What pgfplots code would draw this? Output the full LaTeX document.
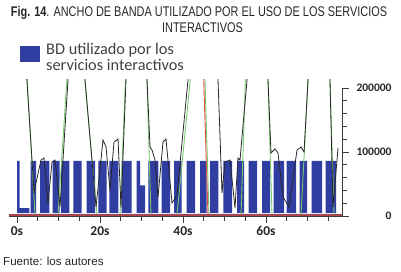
\documentclass[border=0pt]{standalone}
\usepackage{fontspec}
\setmainfont{Liberation Sans}
\newfontfamily\calib{Carlito}
\usepackage{graphicx}
\usepackage{pgfplots}
\pgfplotsset{compat=1.18}
\definecolor{bdblue}{RGB}{47,62,160}
\definecolor{lineblack}{RGB}{40,40,40}
\definecolor{linegreen}{RGB}{120,200,110}
\definecolor{linered}{RGB}{220,80,70}
\definecolor{basered}{RGB}{170,70,80}
\definecolor{axisgray}{RGB}{60,60,60}
\definecolor{legendgray}{RGB}{64,64,64}
\begin{document}
\begin{tikzpicture}[x=1pt,y=1pt]
\path[use as bounding box] (0,0) rectangle (401,271);
\node[anchor=base, inner sep=0pt, text=black!85] at (199,254.3) {\scalebox{0.78}[1]{\fontsize{14}{16}\selectfont\textbf{Fig. 14}. ANCHO DE BANDA UTILIZADO POR EL USO DE LOS SERVICIOS}};
\node[anchor=base, inner sep=0pt, text=black!85] at (202.5,238.5) {\scalebox{0.78}[1]{\fontsize{14}{16}\selectfont INTERACTIVOS}};
\node[anchor=base west, inner sep=0pt, text=black!85] at (3,6) {\fontsize{11.6}{13}\selectfont Fuente: los autores};
\begin{axis}[
  at={(9pt,55pt)}, anchor=south west, scale only axis,
  width=333pt, height=136pt,
  xmin=-1.93, xmax=78.31, ymin=0, ymax=212500,
  axis x line*=bottom, axis y line*=right,
  x axis line style={draw=axisgray, line width=0.8pt, -},
  y axis line style={draw=none, -},
  scaled y ticks=false,
  xtick={0,20,40,60}, xticklabels={0s,20s,40s,60s},
  minor xtick={5,10,15,25,30,35,45,50,55,65,70,75},
  ytick={0,100000,200000}, yticklabels={0,100000,200000},
  minor ytick={20000,40000,60000,80000,120000,140000,160000,180000},
  tick align=outside, major tick length=7pt, minor tick length=4.5pt,
  every tick/.style={draw=axisgray, line width=0.8pt},
  xticklabel style={font=\calib\bfseries\fontsize{13.5}{14}\selectfont, text=black!85},
  yticklabel style={font=\calib\bfseries\fontsize{11.5}{12}\selectfont, text=black!85, text width=38pt, align=right, xshift=1pt},
  legend style={at={(axis description cs:0.024,1.30)}, anchor=north west,
    draw=none, fill=none, font=\calib\fontsize{16.3}{15.5}\selectfont,
    text=legendgray, legend cell align=left},
]
\addplot[const plot, fill=bdblue, draw=none,
  legend image code/.code={\fill[bdblue] (0pt,-8pt) rectangle (20pt,8pt); \path (24pt,0pt);}]
coordinates {
(0,4500) (0,86000) (0.60,12500) (2.96,4500) (3.30,86000) (4.58,4500)
(5.54,86000) (7.78,4500) (8.60,86000) (10.24,4500) (10.60,86000) (12.60,4500)
(13.57,86000) (15.59,4500) (16.80,86000) (18.80,4500) (19.59,86000) (21.61,4500)
(22.24,86000) (24.41,4500) (25.23,86000) (27.64,4500) (28.84,86000) (29.64,48000)
(30.84,4500) (31.64,86000) (34.05,4500) (34.87,86000) (36.87,4500) (37.83,86000)
(39.69,4500) (40.89,86000) (42.89,4500) (44.10,86000) (45.71,4500) (46.51,86000)
(48.51,4500) (49.71,86000) (51.81,4500) (53.01,86000) (54.70,4500) (55.78,86000)
(57.83,4500) (59.04,86000) (60.96,4500) (61.81,86000) (64.34,4500) (64.99,86000)
(67.23,4500) (68.07,86000) (69.88,4500) (71.01,86000) (73.49,4500) (74.34,86000)
(76.87,4500)
};
\addlegendentry{\begin{tabular}{@{}l@{}}BD utilizado por los\\servicios interactivos\end{tabular}}
\addplot[linegreen, line width=0.9pt, forget plot] coordinates {
(0.48,431250) (4.34,1500) (9.88,1500) (13.83,391700) (19.28,1500) (24.82,1500)
(29.08,685900) (32.29,1500) (38.55,1500) (44.46,393100) (46.27,1500) (53.98,1500)
(57.83,779700) (61.45,1500) (68.43,1500) (73.49,625000) (76.39,1500) (77.83,1500)
};
\addplot[lineblack, line width=0.8pt, forget plot] coordinates {
(0.24,431250) (4.10,37500) (5.78,87500) (6.51,90625) (7.47,20313) (8.43,84375)
(9.16,87500) (10.36,14063) (14.02,390000) (19.04,14063) (20.72,118750) (21.45,107813)
(22.41,40625) (23.37,115625) (24.34,120313) (25.06,14063) (28.63,603125) (32.05,107813)
(32.53,103125) (33.25,87500) (33.98,29688) (35.18,115625) (35.90,120313) (37.35,20313)
(38.55,32813) (46.48,570313) (49.40,35938) (50.12,84375) (51.33,87500) (52.53,12500)
(53.25,90625) (53.73,87500) (58.87,467188) (61.20,98438) (62.17,104688) (62.89,98438)
(64.10,29688) (65.54,14063) (67.47,103125) (68.43,107813) (69.16,100000) (73.83,646875)
(76.14,14063) (77.35,106250)
};
\addplot[linered, line width=0.9pt, forget plot] coordinates {
(43.61,493750) (46.02,1500)
};
\addplot[basered, line width=1.5pt, forget plot] coordinates {
(-1.93,1200) (78.31,1200)
};
\coordinate (yb) at (axis cs:78.31,0);
\coordinate (yt) at (axis cs:78.31,200000);
\end{axis}
\draw[axisgray, line width=0.8pt] (yb) -- (yt);
\end{tikzpicture}
\end{document}
